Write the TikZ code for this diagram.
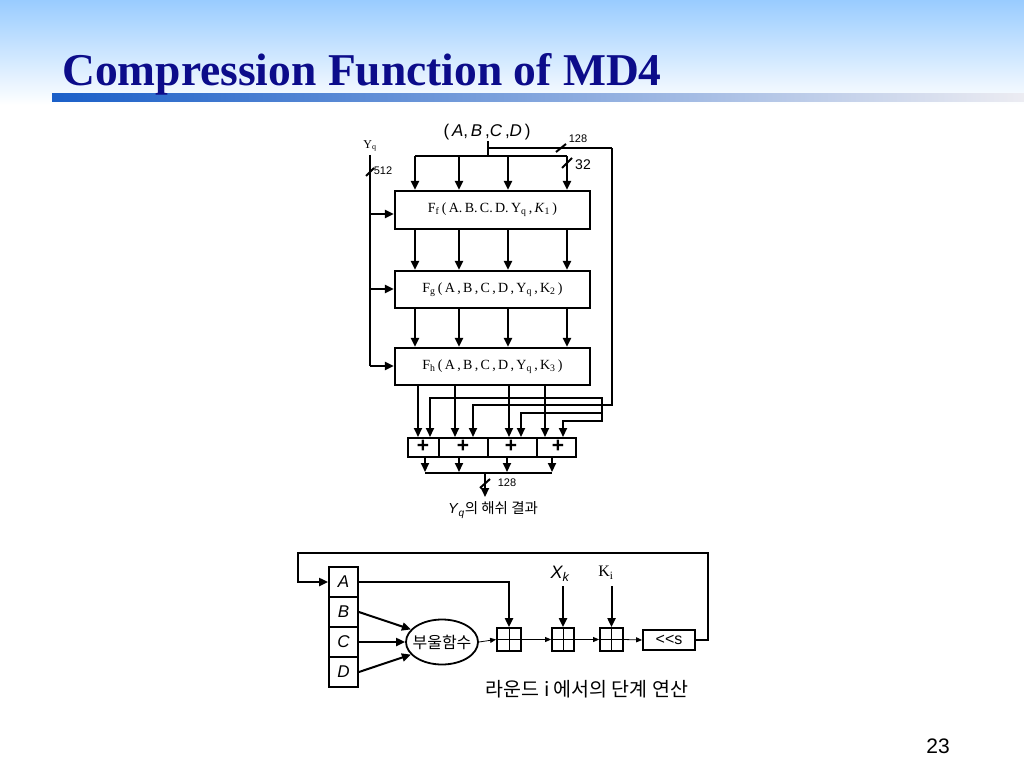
\documentclass[tikz,border=0pt]{standalone}
\usepackage{fontspec}
\setmainfont{Liberation Serif}
\newfontfamily\arial{Liberation Sans}
\newfontfamily\kr{Noto Sans CJK KR}
\usetikzlibrary{arrows.meta,shapes.geometric}
\definecolor{titleblue}{HTML}{0C0C8A}
\definecolor{skyblue}{HTML}{99CCFF}
\definecolor{barblue}{HTML}{1A5FC8}
\definecolor{barend}{HTML}{ECECF2}
\newcommand{\fs}[1]{\fontsize{#1}{#1}\selectfont}
\begin{document}
\begin{tikzpicture}[x=1pt,y=-1pt,
  ln/.style={line width=2pt},
  arr/.style={line width=2pt,-{Triangle[length=9pt,width=8pt]}},
  tarr/.style={line width=0.8pt,-{Triangle[length=6pt,width=5pt]}},
  fbox/.style={draw,line width=2.2pt,minimum width=195pt,minimum height=38pt,inner sep=0pt,font=\fs{14}},
  reg/.style={draw,line width=1.8pt,minimum width=29pt,minimum height=30pt,inner sep=0pt,font=\arial\itshape\fs{17}},
  sq/.style={draw,line width=1.8pt,minimum width=24pt,minimum height=23pt,inner sep=0pt},
  lbl/.style={inner sep=0pt,font=\arial\fs{11}},
  plus/.style={inner sep=0pt,font=\arial\bfseries\fs{21}},
  slash/.style={line width=2pt}]
\useasboundingbox (0,0) rectangle (1024,768);
\fill[white] (0,0) rectangle (1024,768);
\shade[top color=skyblue,bottom color=white] (0,0) rectangle (1024,105);
\shade[left color=barblue,right color=barend] (52,93) rectangle (1024,101);
\node[anchor=base west,inner sep=0pt,text=titleblue,font=\bfseries\fs{45.5}] (title) at (62,85) {Compression Function of MD4};
\node[inner sep=0pt,font=\arial\fs{21}] (page) at (938,746) {23};

% ---------------- upper diagram ----------------
\node[inner sep=0pt,font=\arial\fs{17}] (abcd) at (487,132) {(\,\textit{A},\,\textit{B}\,,\textit{C}\,,\textit{D}\,)};
\node[inner sep=0pt,font=\fs{12}] (yq) at (370,146) {Y\textsubscript{q}};
\node[fbox] (ff) at (492.5,210) {F\textsubscript{f}\,(\,A.\,B.\,C.\,D.\,Y\textsubscript{q}\,,\,\textit{K}\textsubscript{1}\,)};
\node[fbox,minimum height=37pt] (fg) at (492.5,289.5) {F\textsubscript{g}\,(\,A\,,\,B\,,\,C\,,\,D\,,\,Y\textsubscript{q}\,,\,K\textsubscript{2}\,)};
\node[fbox,minimum height=37pt] (fh) at (492.5,366.5) {F\textsubscript{h}\,(\,A\,,\,B\,,\,C\,,\,D\,,\,Y\textsubscript{q}\,,\,K\textsubscript{3}\,)};
\coordinate (c1) at (415,0);
\coordinate (c2) at (459,0);
\coordinate (c3) at (508,0);
\coordinate (c4) at (567,0);
\coordinate (sp) at (488,148);
\coordinate (bus) at (488,156);
\coordinate (rt) at (612,148);
% (A,B,C,D) input
\draw[ln] (abcd.south) ++(1,1) -- (bus);
\draw[ln] (sp) -- (rt);
\draw[ln] (bus -| c1) -- (bus -| c4);
\foreach \c in {c1,c2,c3,c4}{
  \draw[arr] (bus -| \c) -- (ff.north -| \c);
  \draw[arr] (ff.south -| \c) -- (fg.north -| \c);
  \draw[arr] (fg.south -| \c) -- (fh.north -| \c);
}
\draw[slash] (556,152) -- (566,144);
\node[lbl] (l128a) at (578,139) {128};
\draw[slash] (562,168) -- (572,158);
\node[lbl,font=\arial\fs{14}] (l32) at (583,165) {32};
% Y_q input
\draw[ln] (yq.south) ++(0,3) coordinate (yqs) -- (370,366);
\draw[slash] (366,176) -- (374,168);
\node[lbl] (l512) at (383,171) {512};
\draw[arr] (370,214) -- (ff.west |- 370,214);
\draw[arr] (370,289) -- (fg.west |- 370,289);
\draw[arr] (370,366) -- (fh.west |- 370,366);
% adders
\node[draw,line width=2pt,minimum width=168pt,minimum height=19pt,inner sep=0pt] (add) at (492,447.5) {};
\draw[ln] (439,438) -- (439,457);
\draw[ln] (488,438) -- (488,457);
\draw[ln] (537,438) -- (537,457);
\node[plus] (p1) at (423,446) {+};
\node[plus] (p2) at (463,446) {+};
\node[plus] (p3) at (511,446) {+};
\node[plus] (p4) at (558,446) {+};
\foreach \x in {418,455,509,545}{
  \draw[arr] (fh.south -| \x,0) -- (add.north -| \x,0);
}
% chaining variable feed-forward
\draw[arr] (rt) -- (612,405) -- (473,405) -- (add.north -| 473,0);
\draw[arr] (602,398) -- (430,398) -- (add.north -| 430,0);
\draw[ln] (602,397) -- (602,422);
\draw[arr] (602,413) -- (521,413) -- (add.north -| 521,0);
\draw[arr] (602,421) -- (563,421) -- (add.north -| 563,0);
% output
\coordinate (ob) at (485,473);
\foreach \x in {425,459,507,552}{
  \draw[arr] (add.south -| \x,0) -- (\x,472);
}
\draw[ln] (425,473) -- (552,473);
\node[inner sep=0pt,font=\kr\fs{14.5}] (res) at (493,510) {\arial\textit{Y}\textsubscript{\textit{q}}\kr 의 해쉬 결과};
\draw[arr] (ob) -- (ob |- 0,497);
\draw[slash] (480,488) -- (490,479);
\node[lbl] (l128b) at (507,483) {128};

% ---------------- lower diagram ----------------
\node[reg] (rA) at (343.5,582) {A};
\node[reg] (rB) at (343.5,612) {B};
\node[reg] (rC) at (343.5,642) {C};
\node[reg] (rD) at (343.5,672) {D};
\node[draw,ellipse,line width=1.8pt,minimum width=72pt,minimum height=45pt,inner sep=0pt] (bool) at (442,642) {};
\node[inner sep=0pt,font=\kr\fs{16}] (booltxt) at (bool.center) {부울함수};
\node[sq] (s1) at (509,639.5) {};
\node[sq,minimum width=22pt] (s2) at (563,639.5) {};
\node[sq,minimum width=23pt] (s3) at (611.5,639.5) {};
\foreach \s in {s1,s2,s3}{
  \draw[line width=0.7pt] (\s.north) -- (\s.south);
  \draw[line width=0.7pt] (\s.west) -- (\s.east);
}
\node[draw,line width=1.8pt,minimum width=52pt,minimum height=20pt,inner sep=0pt,font=\arial\fs{16}] (sh) at (669,640) {<<s};
\node[inner sep=0pt,font=\arial\itshape\fs{18}] (xk) at (560,574) {X\textsubscript{k}};
\node[inner sep=0pt,font=\fs{16}] (ki) at (606,573) {K\textsubscript{i}};
\node[inner sep=0pt,font=\kr\fs{19.5}] (cap) at (587,689) {라운드 i 에서의 단계 연산};
% connections
\draw[arr] (rB.east) -- (bool.158);
\draw[arr] (rC.east) -- (bool.west);
\draw[arr] (rD.east) -- (bool.202);
\draw[arr] (rA.east) -| (s1.north);
\draw[arr] (s2.north |- 0,586) -- (s2.north);
\draw[arr] (s3.north |- 0,586) -- (s3.north);
\draw[tarr] (bool.east) -- (s1.west);
\draw[tarr] (s1.east) -- (s2.west);
\draw[tarr] (s2.east) -- (s3.west);
\draw[tarr] (s3.east) -- (sh.west);
\draw[arr] (sh.east) -- (708,640) -- (708,553) -- (298,553) -- (298,582) -- (rA.west);
\end{tikzpicture}
\end{document}
